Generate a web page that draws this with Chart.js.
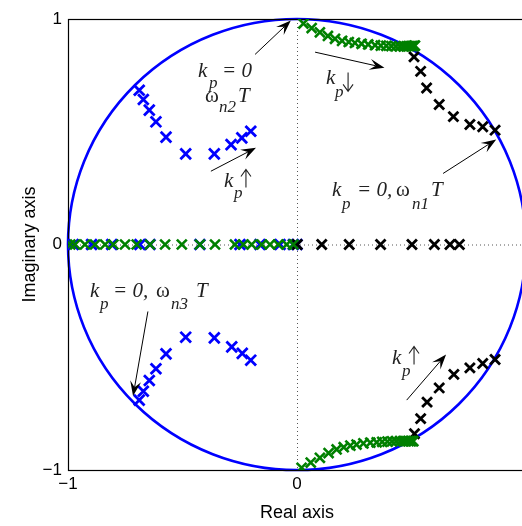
<!DOCTYPE html>
<html>
<head>
<meta charset="utf-8">
<script src="https://cdn.jsdelivr.net/npm/chart.js@4.4.1/dist/chart.umd.min.js"></script>
<style>
  html, body { margin: 0; padding: 0; background: #fff; overflow: hidden; }
  #wrap { position: absolute; left: 0; top: 0; width: 560px; height: 526px; }
</style>
</head>
<body>
<div id="wrap"><canvas id="grafico" width="560" height="526"></canvas></div>
<script>
// Lugar de las raíces: polos en lazo cerrado (plano z), tres ramas

// eje: marcas
const ticksX = [-1, 0, 1];
const ticksY = [-1, 0, 1];
const radioCirculo = 1;

// rama omega_n1 (negro)
const negroX = [0.001, 0.108, 0.228, 0.365, 0.502, 0.600, 0.668, 0.709,
  0.511, 0.540, 0.566, 0.621, 0.683, 0.755, 0.811, 0.865,
  0.513, 0.540, 0.568, 0.621, 0.685, 0.755, 0.811, 0.865];
const negroY = [0, 0, 0, 0, 0, 0, 0, 0,
  0.832, 0.768, 0.694, 0.621, 0.567, 0.532, 0.522, 0.507,
  -0.839, -0.772, -0.699, -0.636, -0.576, -0.547, -0.528, -0.510];

// rama omega_n2 (verde)
const verdeX = [-0.99, -0.969, -0.926, -0.882, -0.838, -0.802, -0.751, -0.700, -0.642, -0.576, -0.503,
  -0.424, -0.358, -0.271, -0.234, -0.198, -0.154, -0.118, -0.082, -0.045, -0.016,
  0.028, 0.064, 0.100, 0.135, 0.166, 0.197, 0.226, 0.253, 0.282, 0.311, 0.341, 0.366, 0.390, 0.412,
  0.432, 0.450, 0.465, 0.478, 0.489, 0.498, 0.505, 0.511, 0.515,
  0.020, 0.060, 0.100, 0.138, 0.173, 0.204, 0.233, 0.260, 0.290, 0.320, 0.348, 0.372, 0.395, 0.415,
  0.433, 0.450, 0.464, 0.476, 0.487, 0.495, 0.502, 0.508];
const verdeY = [0, 0, 0, 0, 0, 0, 0, 0, 0, 0, 0,
  0, 0, 0, 0, 0, 0, 0, 0, 0, 0,
  0.980, 0.960, 0.941, 0.925, 0.912, 0.903, 0.898, 0.894, 0.890, 0.887, 0.884, 0.882, 0.881, 0.880,
  0.879, 0.879, 0.879, 0.879, 0.880, 0.880, 0.880, 0.881, 0.882,
  -0.990, -0.967, -0.946, -0.925, -0.909, -0.899, -0.892, -0.887, -0.882, -0.879, -0.877, -0.875, -0.874, -0.873,
  -0.872, -0.872, -0.872, -0.872, -0.872, -0.872, -0.872, -0.872];

// rama omega_n3 (azul)
const azulX = [-0.977, -0.897, -0.809, -0.686, -0.642, -0.424, -0.249, -0.162, -0.074, -0.016, 0.000,
  -0.689, -0.671, -0.645, -0.616, -0.572, -0.486, -0.361, -0.288, -0.241, -0.202,
  -0.689, -0.671, -0.645, -0.616, -0.572, -0.486, -0.361, -0.285, -0.239, -0.202];
const azulY = [0, 0, 0, 0, 0, 0, 0, 0, 0, 0, 0,
  0.684, 0.643, 0.596, 0.544, 0.476, 0.402, 0.402, 0.443, 0.473, 0.502,
  -0.690, -0.651, -0.603, -0.551, -0.485, -0.411, -0.414, -0.454, -0.483, -0.513];

// flechas: [x0, y0, x1, y1]
const flechas = [
  [-0.183, 0.843, -0.027, 0.993],
  [0.079, 0.853, 0.382, 0.784],
  [-0.376, 0.325, -0.179, 0.429],
  [0.638, 0.315, 0.870, 0.466],
  [-0.651, -0.297, -0.716, -0.672],
  [0.479, -0.690, 0.651, -0.488]
];

// textos: ancla (x, y) en datos + trozos [texto, dx, dy, estilo]
const textos = [
  { x: -0.432, y: 0.741, partes: [['k', 0, 0, 'i'], ['p', 11, 11, 's'], ['= 0', 24, 0, 'i']] },
  { x: -0.402, y: 0.630, partes: [['ω', 0, 0, 'n'], ['n2', 14, 10, 's'], ['T', 33, 0, 'i']] },
  { x: 0.127, y: 0.710, partes: [['k', 0, 0, 'i'], ['p', 9, 13, 's'], ['abajo', 22, 0, 'a']] },
  { x: -0.319, y: 0.253, partes: [['k', 0, 0, 'i'], ['p', 10, 11, 's'], ['arriba', 22, 0, 'a']] },
  { x: 0.153, y: 0.213, partes: [['k', 0, 0, 'i'], ['p', 10, 13, 's'], ['= 0,', 25, 0, 'i'], ['ω', 64, 0, 'n'], ['n1', 80, 13, 's'], ['T', 99, 0, 'i']] },
  { x: -0.904, y: -0.235, partes: [['k', 0, 0, 'i'], ['p', 10, 12, 's'], ['= 0,', 23, 0, 'i'], ['ω', 66, 0, 'n'], ['n3', 81, 12, 's'], ['T', 106, 0, 'i']] },
  { x: 0.415, y: -0.532, partes: [['k', 0, 0, 'i'], ['p', 10, 12, 's'], ['arriba', 22, 0, 'a']] }
];

const menos = v => String(v).replace('-', '\u2212');

// flecha vertical dibujada a mano (las fuentes no traen una buena)
function flechaVertical(ctx, x, base, haciaArriba) {
  const y0 = haciaArriba ? base : base - 12;
  const y1 = haciaArriba ? base - 18 : base + 7;
  const s = haciaArriba ? 1 : -1;
  ctx.beginPath();
  ctx.moveTo(x, y0); ctx.lineTo(x, y1);
  ctx.moveTo(x - 5, y1 + s * 7); ctx.lineTo(x, y1); ctx.lineTo(x + 5, y1 + s * 7);
  ctx.stroke();
}

const dibujos = {
  id: 'dibujos',
  beforeDatasetsDraw(chart) {
    const { ctx, chartArea: a, scales: { x, y } } = chart;
    const cx = x.getPixelForValue(0), cy = y.getPixelForValue(0);
    ctx.save();
    // lineas punteadas en cero
    ctx.strokeStyle = '#555';
    ctx.lineWidth = 1;
    ctx.setLineDash([1, 3]);
    ctx.beginPath();
    ctx.moveTo(a.left, cy + 0.5); ctx.lineTo(a.right, cy + 0.5);
    ctx.moveTo(cx + 0.5, a.top); ctx.lineTo(cx + 0.5, a.bottom);
    ctx.stroke();
    ctx.setLineDash([]);
    // circulo unitario
    const rx = x.getPixelForValue(radioCirculo) - cx;
    const ry = cy - y.getPixelForValue(radioCirculo);
    ctx.strokeStyle = '#0000ff';
    ctx.lineWidth = 2.6;
    ctx.beginPath();
    ctx.ellipse(cx, cy, rx, ry, 0, 0, Math.PI * 2);
    ctx.stroke();
    // caja
    ctx.strokeStyle = '#000';
    ctx.lineWidth = 1.2;
    ctx.strokeRect(a.left + 0.5, a.top + 0.5, a.right - a.left, a.bottom - a.top);
    ctx.restore();
  },
  afterDatasetsDraw(chart) {
    const { ctx, scales: { x, y } } = chart;
    ctx.save();
    // flechas
    flechas.forEach(f => {
      const x0 = x.getPixelForValue(f[0]), y0 = y.getPixelForValue(f[1]);
      const x1 = x.getPixelForValue(f[2]), y1 = y.getPixelForValue(f[3]);
      const ang = Math.atan2(y1 - y0, x1 - x0);
      const L = 15, W = 5.5;
      ctx.strokeStyle = '#000';
      ctx.lineWidth = 1;
      ctx.beginPath();
      ctx.moveTo(x0, y0);
      ctx.lineTo(x1 - Math.cos(ang) * L * 0.6, y1 - Math.sin(ang) * L * 0.6);
      ctx.stroke();
      ctx.fillStyle = '#000';
      ctx.beginPath();
      ctx.moveTo(x1, y1);
      ctx.lineTo(x1 - Math.cos(ang) * L - Math.sin(ang) * W, y1 - Math.sin(ang) * L + Math.cos(ang) * W);
      ctx.lineTo(x1 - Math.cos(ang) * L * 0.6, y1 - Math.sin(ang) * L * 0.6);
      ctx.lineTo(x1 - Math.cos(ang) * L + Math.sin(ang) * W, y1 - Math.sin(ang) * L - Math.cos(ang) * W);
      ctx.closePath();
      ctx.fill();
    });
    // textos
    ctx.fillStyle = '#222';
    ctx.strokeStyle = '#222';
    ctx.lineWidth = 1.1;
    ctx.textBaseline = 'alphabetic';
    ctx.textAlign = 'left';
    textos.forEach(t => {
      const px = x.getPixelForValue(t.x), py = y.getPixelForValue(t.y);
      t.partes.forEach(p => {
        if (p[3] === 'a') {
          flechaVertical(ctx, px + p[1], py + p[2], p[0] === 'arriba');
          return;
        }
        if (p[3] === 'i') ctx.font = 'italic 21px "Liberation Serif", serif';
        else if (p[3] === 's') ctx.font = 'italic 17px "Liberation Serif", serif';
        else ctx.font = '21px "Liberation Serif", serif';
        ctx.fillText(p[0], px + p[1], py + p[2]);
      });
    });
    ctx.restore();
  }
};

const fuenteEje = { family: '"Liberation Sans", Arial, sans-serif', size: 17 };

const ctxGrafico = document.getElementById('grafico').getContext('2d');
const grafico = new Chart(ctxGrafico, {
  type: 'scatter',
  data: {
    datasets: [
      {
        label: 'omega_n2',
        data: verdeX.map((v, i) => ({ x: v, y: verdeY[i] })),
        pointStyle: 'crossRot',
        pointRadius: 7,
        pointBorderWidth: 2.6,
        borderColor: '#008000',
        backgroundColor: '#008000',
        order: 0
      },
      {
        label: 'omega_n1',
        data: negroX.map((v, i) => ({ x: v, y: negroY[i] })),
        pointStyle: 'crossRot',
        pointRadius: 7,
        pointBorderWidth: 2.8,
        borderColor: '#000000',
        backgroundColor: '#000000',
        order: 1
      },
      {
        label: 'omega_n3',
        data: azulX.map((v, i) => ({ x: v, y: azulY[i] })),
        pointStyle: 'crossRot',
        pointRadius: 7.5,
        pointBorderWidth: 2.8,
        borderColor: '#0000ff',
        backgroundColor: '#0000ff',
        order: 2
      }
    ]
  },
  options: {
    responsive: false,
    animation: false,
    events: [],
    layout: { padding: { top: 19, right: 34, left: 0, bottom: 0 } },
    plugins: { legend: { display: false }, tooltip: { enabled: false } },
    scales: {
      x: {
        type: 'linear',
        min: -1, max: 1,
        afterBuildTicks: s => { s.ticks = ticksX.map(v => ({ value: v })); },
        afterFit: s => { s.height = 56; },
        grid: { display: false, drawTicks: false, tickLength: 0 },
        border: { display: false },
        ticks: { color: '#000', font: fuenteEje, padding: 4, maxRotation: 0, callback: menos },
        title: { display: true, text: 'Real axis', color: '#000', font: { family: fuenteEje.family, size: 18 }, padding: { top: 0, bottom: 2 } }
      },
      y: {
        type: 'linear',
        min: -1, max: 1,
        afterBuildTicks: s => { s.ticks = ticksY.map(v => ({ value: v })); },
        afterFit: s => { s.width = 68; },
        grid: { display: false, drawTicks: false, tickLength: 0 },
        border: { display: false },
        ticks: { color: '#000', font: fuenteEje, padding: 6, callback: menos },
        title: { display: true, text: 'Imaginary axis', color: '#000', font: { family: fuenteEje.family, size: 18 }, padding: { top: 19, bottom: 0 } }
      }
    }
  },
  plugins: [dibujos]
});
</script>
</body>
</html>
